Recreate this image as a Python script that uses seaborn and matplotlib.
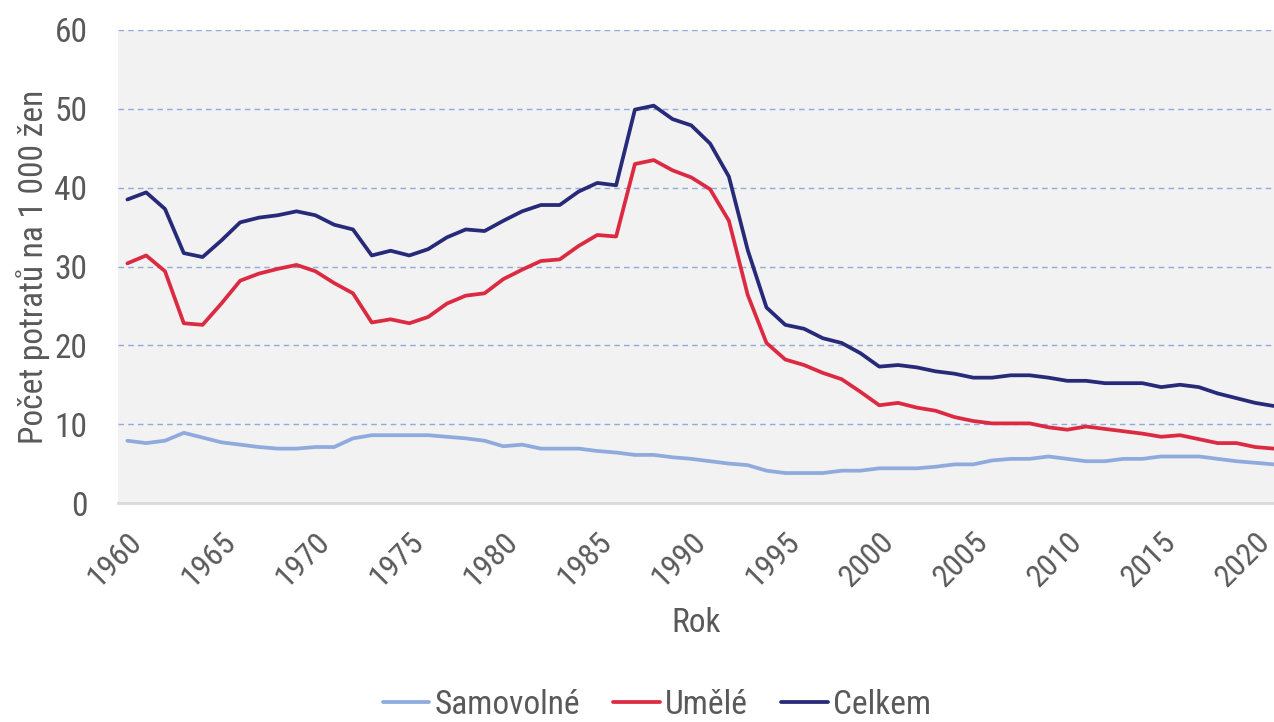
import pandas as pd
import seaborn as sns
import matplotlib.pyplot as plt
import numpy as np

# Data
years = list(range(1960, 2022))

samovolne = [7.9, 7.6, 7.9, 8.9, 8.3, 7.7, 7.4, 7.1, 6.9, 6.9,
             7.1, 7.1, 8.2, 8.6, 8.6, 8.6, 8.6, 8.4, 8.2, 7.9,
             7.2, 7.4, 6.9, 6.9, 6.9, 6.6, 6.4, 6.1, 6.1, 5.8,
             5.6, 5.3, 5.0, 4.8, 4.1, 3.8, 3.8, 3.8, 4.1, 4.1,
             4.4, 4.4, 4.4, 4.6, 4.9, 4.9, 5.4, 5.6, 5.6, 5.9,
             5.6, 5.3, 5.3, 5.6, 5.6, 5.9, 5.9, 5.9, 5.6, 5.3,
             5.1, 4.9]

umele = [30.4, 31.4, 29.4, 22.8, 22.6, 25.3, 28.2, 29.1, 29.7, 30.2,
         29.4, 27.9, 26.6, 22.9, 23.3, 22.8, 23.6, 25.3, 26.3, 26.6,
         28.4, 29.6, 30.7, 30.9, 32.6, 34.0, 33.8, 43.0, 43.5, 42.2,
         41.3, 39.8, 35.8, 26.4, 20.3, 18.2, 17.5, 16.5, 15.7, 14.1,
         12.4, 12.7, 12.1, 11.7, 10.9, 10.4, 10.1, 10.1, 10.1, 9.6,
         9.3, 9.7, 9.4, 9.1, 8.8, 8.4, 8.6, 8.1, 7.6, 7.6,
         7.1, 6.9]

celkem = [38.5, 39.4, 37.3, 31.7, 31.2, 33.3, 35.6, 36.2, 36.5, 37.0,
          36.5, 35.3, 34.7, 31.4, 32.0, 31.4, 32.2, 33.7, 34.7, 34.5,
          35.8, 37.0, 37.8, 37.8, 39.5, 40.6, 40.3, 49.9, 50.4, 48.7,
          47.9, 45.6, 41.4, 32.1, 24.8, 22.6, 22.1, 20.9, 20.3, 19.0,
          17.3, 17.5, 17.2, 16.7, 16.4, 15.9, 15.9, 16.2, 16.2, 15.9,
          15.5, 15.5, 15.2, 15.2, 15.2, 14.7, 15.0, 14.7, 13.9, 13.3,
          12.7, 12.3]

series_names = ['Samovolné', 'Umělé', 'Celkem']
colors = ['#8faadc', '#dc2a42', '#262a78']

df = pd.DataFrame({'Rok': years, 'Samovolné': samovolne, 'Umělé': umele, 'Celkem': celkem})
df_long = df.melt(id_vars=['Rok'], value_vars=series_names, var_name='druh', value_name='pocet')

sns.set_style('white', {'axes.facecolor': '#f2f2f2'})
# narrow font if one is there, otherwise plain Liberation Sans
plt.rcParams['font.family'] = ['Roboto Condensed', 'Noto Sans Condensed', 'Open Sans Condensed',
                               'Liberation Sans', 'DejaVu Sans']
plt.rcParams['font.stretch'] = 'condensed'
text_color = '#595959'
fs = 24

fig = plt.figure(figsize=(12.74, 7.22), dpi=100)
ax = fig.add_axes([118 / 1274, 1 - 503 / 722, 1 - 118 / 1274, (503 - 30) / 722])

sns.lineplot(data=df_long, x='Rok', y='pocet', hue='druh', hue_order=series_names,
             palette=colors, linewidth=2.7, ax=ax)

ax.set_xlim(1959.5, 2021)
ax.set_ylim(0, 60)
ax.set_yticks(range(0, 61, 10))
ax.set_xticks(range(1960, 2021, 5))
ax.yaxis.grid(True, color='#8faadc', linestyle=(0, (4, 3)), linewidth=1.0)
ax.set_axisbelow(True)
for s in ['top', 'right', 'left']:
    ax.spines[s].set_visible(False)
ax.spines['bottom'].set_color('#d9d9d9')
ax.spines['bottom'].set_linewidth(2)

ax.tick_params(axis='y', length=0, pad=22, labelsize=fs, labelcolor=text_color)
ax.tick_params(axis='x', length=0, pad=17, labelsize=23, labelcolor=text_color)
plt.setp(ax.get_xticklabels(), rotation=45, ha='right', rotation_mode='anchor')

ax.set_xlabel('Rok', fontsize=fs, color=text_color, labelpad=11)
ax.set_ylabel('Počet potratů na 1 000 žen', fontsize=fs, color=text_color, labelpad=3)

ax.get_legend().remove()
handles, labels = ax.get_legend_handles_labels()
fig.legend(handles, labels, loc='center', bbox_to_anchor=(657 / 1274, 1 - 705 / 722),
           ncol=3, frameon=False, fontsize=fs, handlelength=1.4, handletextpad=0.15,
           columnspacing=1.0, labelcolor=text_color)

fig.savefig('out.png', dpi=100)
